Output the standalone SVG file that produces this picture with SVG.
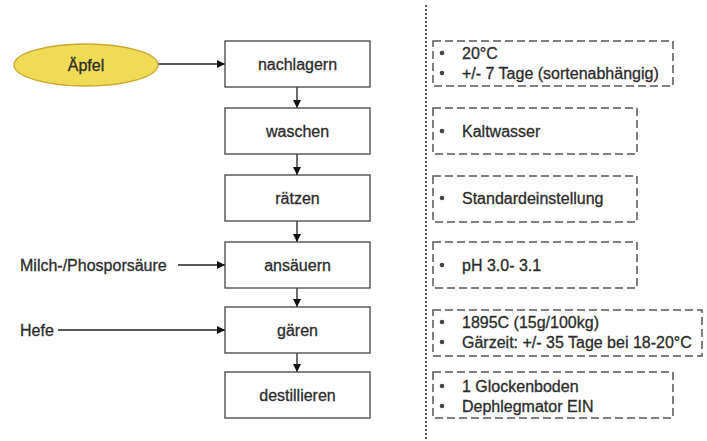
<svg xmlns="http://www.w3.org/2000/svg" width="707" height="441" viewBox="0 0 707 441">
<style>
text{font-family:"Liberation Sans",Arial,sans-serif;font-size:16px;fill:#2b2b2b;stroke:#2b2b2b;stroke-width:0.3}
.c{text-anchor:middle}
.box{fill:#fff;stroke:#444;stroke-width:1.3}
.note{fill:none;stroke:#555;stroke-width:1.5;stroke-dasharray:8 4}
.ln{stroke:#222;stroke-width:1.3;fill:none}
.dot{fill:#444}
</style>
<defs>
<marker id="ah" viewBox="0 0 10 10" refX="10" refY="5" markerWidth="8" markerHeight="8" markerUnits="userSpaceOnUse" orient="auto">
<path d="M0,0 L10,5 L0,10 z" fill="#111"/>
</marker>
</defs>
<rect width="707" height="441" fill="#fff"/>
<line x1="426" y1="5" x2="426" y2="441" stroke="#555" stroke-width="2" stroke-dasharray="2 2"/>
<g id="connectors">
<line class="ln" x1="158" y1="64" x2="225" y2="64" marker-end="url(#ah)"/>
<line class="ln" x1="178" y1="265" x2="225" y2="265" marker-end="url(#ah)"/>
<line class="ln" x1="58" y1="330" x2="225" y2="330" marker-end="url(#ah)"/>
<line class="ln" x1="297" y1="87" x2="297" y2="108" marker-end="url(#ah)"/>
<line class="ln" x1="297" y1="154" x2="297" y2="175" marker-end="url(#ah)"/>
<line class="ln" x1="297" y1="221" x2="297" y2="242" marker-end="url(#ah)"/>
<line class="ln" x1="297" y1="288" x2="297" y2="307" marker-end="url(#ah)"/>
<line class="ln" x1="297" y1="353" x2="297" y2="372" marker-end="url(#ah)"/>
</g>
<g id="aepfel">
<ellipse cx="86" cy="65" rx="72" ry="21" fill="#f0db56" stroke="#c9a82c" stroke-width="1.3"/>
<text class="c" x="86" y="70.5">Äpfel</text>
</g>
<g id="milch"><text x="20" y="270.5">Milch-/Phosporsäure</text></g>
<g id="hefe"><text x="20" y="335.5">Hefe</text></g>
<g id="nachlagern"><rect class="box" x="225" y="41" width="145" height="46"/><text class="c" x="297.5" y="69.5">nachlagern</text></g>
<g id="waschen"><rect class="box" x="225" y="108" width="145" height="46"/><text class="c" x="297.5" y="136.5">waschen</text></g>
<g id="raetzen"><rect class="box" x="225" y="175" width="145" height="46"/><text class="c" x="297.5" y="203.5">rätzen</text></g>
<g id="ansaeuern"><rect class="box" x="225" y="242" width="145" height="46"/><text class="c" x="297.5" y="270.5">ansäuern</text></g>
<g id="gaeren"><rect class="box" x="225" y="307" width="145" height="46"/><text class="c" x="297.5" y="335.5">gären</text></g>
<g id="destillieren"><rect class="box" x="225" y="372" width="145" height="46"/><text class="c" x="297.5" y="400.5">destillieren</text></g>
<g id="note1"><rect class="note" x="433" y="41" width="240" height="45"/>
<circle class="dot" cx="442" cy="53" r="2.3"/><text x="462" y="59">20°C</text>
<circle class="dot" cx="442" cy="73" r="2.3"/><text x="462" y="79">+/- 7 Tage (sortenabhängig)</text></g>
<g id="note2"><rect class="note" x="433" y="108" width="204" height="46"/>
<circle class="dot" cx="442" cy="131" r="2.3"/><text x="462" y="137">Kaltwasser</text></g>
<g id="note3"><rect class="note" x="433" y="176" width="204" height="46"/>
<circle class="dot" cx="442" cy="198" r="2.3"/><text x="462" y="204">Standardeinstellung</text></g>
<g id="note4"><rect class="note" x="433" y="242" width="204" height="46"/>
<circle class="dot" cx="442" cy="265" r="2.3"/><text x="462" y="271">pH 3.0- 3.1</text></g>
<g id="note5"><rect class="note" x="433" y="310" width="269" height="46"/>
<circle class="dot" cx="442" cy="322" r="2.3"/><text x="462" y="328">1895C (15g/100kg)</text>
<circle class="dot" cx="442" cy="342" r="2.3"/><text x="462" y="348">Gärzeit: +/- 35 Tage bei 18-20°C</text></g>
<g id="note6"><rect class="note" x="433" y="372" width="240" height="46"/>
<circle class="dot" cx="442" cy="386" r="2.3"/><text x="462" y="392">1 Glockenboden</text>
<circle class="dot" cx="442" cy="406" r="2.3"/><text x="462" y="412">Dephlegmator EIN</text></g>
</svg>
